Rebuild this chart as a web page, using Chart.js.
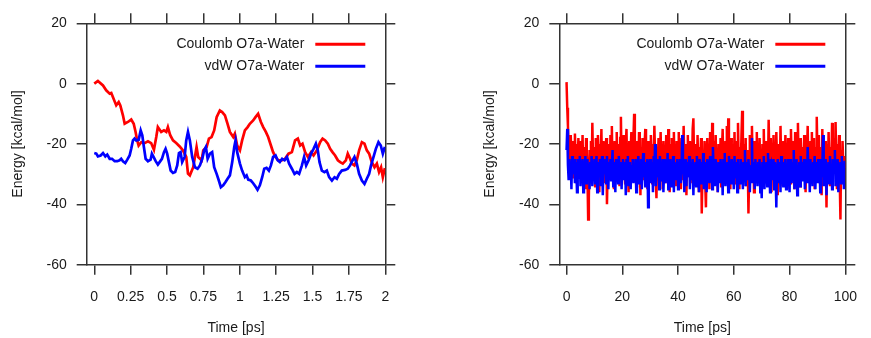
<!DOCTYPE html>
<html>
<head>
<meta charset="utf-8">
<title>O7a-Water interaction energy</title>
<script src="https://cdn.jsdelivr.net/npm/chart.js@4"></script>
<style>
  html, body { margin: 0; padding: 0; background: #fff; }
  #wrap { position: relative; width: 871px; height: 338px; }
  canvas { position: absolute; top: 0; }
  #short-run { left: 0; }
  #long-run { left: 436px; }
</style>
</head>
<body>
<div id="wrap">
  <canvas id="short-run" width="436" height="338"></canvas>
  <canvas id="long-run" width="435" height="338"></canvas>
</div>
<script>
// tick values
const energyTicks = [-60, -40, -20, 0, 20];
const shortTimeTicks = [0, 0.25, 0.5, 0.75, 1, 1.25, 1.5, 1.75, 2];
const longTimeTicks = [0, 20, 40, 60, 80, 100];

// first 2 ps, [time ps, energy kcal/mol]
const coulombShort = [
  [0, 0], [0.025, 0.9], [0.06, -0.6], [0.082, -2.2], [0.106, -3.3], [0.117, -3.1], [0.128, -4.4],
  [0.151, -7.2], [0.168, -6.1], [0.179, -7.2], [0.197, -10.5], [0.209, -13.3], [0.231, -12.7],
  [0.254, -11.9], [0.271, -13.3], [0.284, -16], [0.295, -18.8], [0.305, -20.5], [0.323, -19.4],
  [0.346, -19.7], [0.369, -19.1], [0.391, -19.7], [0.41, -21.9], [0.426, -17.7], [0.437, -14.4],
  [0.46, -16], [0.479, -15.5], [0.495, -16], [0.506, -14.4], [0.522, -17.1], [0.541, -18.8],
  [0.563, -19.7], [0.587, -20.8], [0.609, -22.1], [0.632, -24.3], [0.644, -29.8], [0.657, -30.4],
  [0.68, -27.7], [0.703, -21], [0.714, -24.3], [0.738, -25.4], [0.749, -22.1], [0.772, -21],
  [0.788, -18.2], [0.806, -17.7], [0.824, -15.5], [0.841, -11.1], [0.863, -8.9], [0.879, -9.4],
  [0.898, -10.5], [0.916, -13.3], [0.932, -16], [0.955, -17.7], [0.966, -16.6], [0.982, -20.5],
  [1.001, -22.1], [1.016, -18.8], [1.035, -15.5], [1.054, -14.4], [1.069, -13.3], [1.092, -12.2],
  [1.108, -11.1], [1.126, -10], [1.145, -12.7], [1.161, -14.4], [1.179, -16], [1.195, -17.7],
  [1.214, -20.5], [1.229, -22.7], [1.246, -24.3], [1.264, -25.4], [1.287, -25.4], [1.31, -25],
  [1.335, -23.2], [1.358, -22.7], [1.38, -18.8], [1.399, -18.2], [1.415, -20.5], [1.431, -19.9],
  [1.449, -22.7], [1.468, -24.3], [1.49, -22.7], [1.507, -23.8], [1.53, -22.1], [1.552, -19.4],
  [1.569, -18.2], [1.587, -18.8], [1.605, -19.9], [1.621, -21.6], [1.637, -22.7], [1.655, -23.8],
  [1.674, -25.4], [1.69, -26], [1.708, -26.5], [1.729, -25.4], [1.742, -23.2], [1.758, -24.9],
  [1.77, -26.5], [1.788, -27.1], [1.804, -25.4], [1.82, -22.1], [1.839, -19.4], [1.857, -19.9],
  [1.873, -22.1], [1.889, -23.2], [1.907, -26], [1.926, -27.7], [1.942, -26.5], [1.957, -29.3],
  [1.971, -27.7], [1.983, -31], [1.997, -28]
];
const vdwShort = [
  [0, -23], [0.014, -23.2], [0.025, -24.1], [0.044, -23.8], [0.06, -23], [0.076, -24.1],
  [0.089, -23.5], [0.106, -24.9], [0.122, -24.9], [0.14, -25.7], [0.158, -25.7], [0.174, -25.4],
  [0.185, -24.9], [0.197, -25.7], [0.213, -26.3], [0.227, -25.2], [0.243, -23.8], [0.254, -21.6],
  [0.266, -18.8], [0.277, -18.2], [0.288, -18.8], [0.305, -18.6], [0.319, -15.5], [0.33, -17.1],
  [0.341, -21], [0.353, -24.9], [0.369, -25.7], [0.387, -25.2], [0.396, -23.2], [0.41, -24.5],
  [0.422, -25.7], [0.437, -26.8], [0.449, -26], [0.465, -24.9], [0.479, -22.7], [0.49, -21.6],
  [0.501, -23.2], [0.513, -26], [0.525, -28.8], [0.541, -29.6], [0.556, -29.3], [0.57, -27.1],
  [0.582, -23], [0.593, -22.7], [0.604, -26], [0.621, -24.3], [0.632, -18.8], [0.644, -16],
  [0.657, -18.8], [0.673, -24.3], [0.692, -27.7], [0.71, -28.2], [0.726, -27.1], [0.742, -24.9],
  [0.755, -22.1], [0.767, -21], [0.779, -24.9], [0.795, -23.2], [0.81, -22.7], [0.824, -27.7],
  [0.841, -29.9], [0.856, -32.1], [0.87, -34.3], [0.886, -33.7], [0.902, -32.6], [0.916, -31.5],
  [0.932, -30.4], [0.948, -26], [0.962, -21], [0.971, -18.8], [0.982, -22.7], [1.001, -26.5],
  [1.016, -28.8], [1.035, -31], [1.047, -30.4], [1.058, -31.8], [1.076, -32.1], [1.092, -33],
  [1.108, -34.1], [1.122, -35.2], [1.138, -33.7], [1.154, -31], [1.168, -28.2], [1.184, -27.9],
  [1.2, -28.8], [1.214, -27.1], [1.229, -24.3], [1.246, -23.8], [1.26, -25.4], [1.275, -26],
  [1.291, -24.9], [1.308, -25.4], [1.324, -24.3], [1.339, -26.5], [1.358, -28.2], [1.376, -29.9],
  [1.392, -29.3], [1.408, -29.9], [1.427, -27.1], [1.442, -24.3], [1.456, -27.1], [1.473, -25.4],
  [1.49, -23.2], [1.507, -21.6], [1.523, -19.9], [1.536, -22.1], [1.548, -26], [1.564, -28.8],
  [1.582, -29.3], [1.598, -28.8], [1.614, -31], [1.633, -32.1], [1.651, -31], [1.667, -31.5],
  [1.683, -29.9], [1.701, -28.8], [1.724, -28.6], [1.742, -28.2], [1.758, -27.1], [1.775, -25.4],
  [1.788, -24.3], [1.804, -26.5], [1.82, -29.9], [1.839, -32.1], [1.857, -33.2], [1.873, -31.5],
  [1.889, -29.9], [1.902, -27.1], [1.919, -24.3], [1.935, -21.6], [1.953, -19.4], [1.969, -20.5],
  [1.983, -23.2], [1.997, -21]
];

// full 100 ps, one value every 0.25 ps (20 values = 5 ps per row)
const longStep = 0.25;
const coulombLong = [
  0.5, -8, -14, -21, -18, -27, -17, -24, -31, -19, -22, -28, -16.5, -25, -33, -20, -26, -18, -30, -23,
  -19, -29, -24, -17, -32, -21, -26, -35, -18, -23, -30, -45, -38, -22, -27, -19, -33, -13, -25, -29,
  -21, -34, -18, -26, -30, -17, -23, -36, -20, -27, -15, -31, -24, -19, -29, -33, -22, -18, -40, -28,
  -20, -26, -32, -17, -24, -14, -30, -21, -35, -19, -27, -23, -16, -31, -25, -20, -34, -18, -11, -28,
  -23, -30, -17, -26, -33, -20, -15, -29, -24, -36, -19, -27, -22, -16, -31, -25, -18, -10, -28, -22,
  -34, -19, -26, -30, -16, -23, -37, -21, -28, -18, -25, -32, -20, -15, -29, -24, -35, -19, -27, -22,
  -31, -17, -25, -33, -20, -28, -14, -23, -30, -38, -21, -26, -18, -32, -24, -16, -29, -22, -35, -19,
  -27, -21, -33, -17, -25, -30, -15, -24, -36, -20, -28, -18, -31, -23, -16, -29, -26, -34, -19, -22,
  -30, -16, -27, -21, -35, -18, -24, -32, -14, -26, -29, -20, -37, -23, -17, -31, -25, -19, -33, -22,
  -28, -15, -11.5, -26, -34, -20, -23, -31, -17, -29, -36, -21, -25, -18, -43, -30, -22, -27, -19, -33,
  -41, -24, -18, -29, -21, -35, -16, -26, -30, -13, -23, -33, -19, -27, -17, -31, -24, -36, -20, -26,
  -29, -18, -34, -22, -15, -28, -25, -32, -19, -24, -14, -30, -11.5, -27, -21, -35, -18, -26, -31, -20,
  -28, -16, -33, -23, -19, -30, -13, -26, -35, -21, -27, -17, -9, -24, -31, -20, -29, -18, -34, -22,
  -26, -43, -30, -17, -24, -32, -14, -27, -21, -36, -19, -25, -29, -16, -33, -22, -28, -18, -31, -23,
  -35, -20, -26, -15, -30, -24, -19, -33, -21, -28, -12, -25, -31, -18, -36, -23, -27, -17, -29, -22,
  -32, -16, -26, -37, -20, -24, -30, -14, -28, -22, -34, -19, -25, -31, -17, -27, -23, -35, -18, -29,
  -21, -33, -15, -26, -30, -19, -24, -35, -16, -28, -22, -31, -13, -27, -20, -34, -18, -25, -29, -21,
  -32, -17, -26, -36, -20, -24, -14, -30, -22, -33, -19, -27, -16, -31, -25, -18, -35, -21, -28, -11,
  -24, -30, -17, -33, -21, -26, -37, -15, -28, -22, -32, -19, -25, -41, -20, -29, -16, -27, -34, -21,
  -26, -13, -31, -23, -18, -29, -12.7, -25, -35, -20, -27, -17, -32, -45, -22, -30, -19, -26, -33, -24,
  -28
];
const vdwLong = [
  -22, -15, -27, -32, -25, -29, -26, -35, -24, -30, -27, -25, -33, -26, -28, -36, -25, -27, -31, -24,
  -34, -26, -28, -25, -36, -27, -30, -24, -33, -28, -25, -31, -27, -35, -26, -29, -24, -34, -27, -30,
  -25, -33, -28, -24, -36, -26, -29, -31, -25, -34, -27, -24, -37, -28, -25, -30, -26, -33, -24, -28,
  -35, -26, -29, -25, -32, -27, -22, -34, -28, -26, -36, -25, -30, -27, -33, -24, -28, -31, -26, -35,
  -27, -25, -32, -28, -26, -37, -25, -30, -24, -34, -28, -26, -35, -27, -29, -25, -33, -27, -31, -25,
  -36, -26, -28, -24, -33, -27, -30, -25, -35, -27, -23, -31, -28, -34, -26, -29, -25, -41, -30, -27,
  -25, -33, -28, -26, -36, -24, -30, -20, -34, -27, -25, -31, -28, -35, -24, -29, -26, -32, -25, -36,
  -28, -25, -33, -27, -30, -23, -35, -26, -28, -25, -34, -27, -31, -24, -36, -26, -29, -27, -32, -25,
  -35, -26, -29, -25, -33, -28, -17, -30, -26, -36, -25, -28, -34, -26, -31, -27, -24, -35, -28, -26,
  -32, -25, -37, -27, -29, -26, -34, -24, -30, -27, -36, -25, -28, -33, -26, -31, -23, -35, -28, -26,
  -30, -36, -25, -28, -27, -33, -24, -31, -27, -35, -21, -29, -26, -34, -25, -30, -28, -36, -26, -28,
  -33, -25, -30, -27, -37, -25, -28, -23, -34, -27, -31, -26, -36, -24, -29, -27, -33, -25, -30, -28,
  -35, -24, -31, -26, -28, -36, -25, -30, -27, -33, -25, -29, -27, -35, -26, -31, -22, -34, -28, -26,
  -32, -25, -29, -36, -27, -30, -18, -33, -26, -28, -35, -25, -31, -27, -34, -26, -29, -25, -36, -28,
  -38, -26, -31, -24, -35, -27, -29, -26, -34, -23, -30, -28, -36, -25, -32, -27, -28, -25, -35, -26,
  -30, -41, -27, -25, -33, -28, -26, -36, -24, -31, -28, -34, -26, -29, -25, -35, -27, -32, -25, -30,
  -36, -25, -28, -33, -26, -30, -22, -35, -27, -29, -25, -37, -27, -31, -26, -34, -24, -28, -32, -26,
  -30, -25, -35, -28, -26, -33, -21, -29, -27, -36, -25, -31, -27, -34, -26, -28, -24, -35, -28, -26,
  -33, -25, -29, -27, -36, -25, -31, -28, -17, -34, -26, -30, -25, -37, -27, -29, -26, -33, -24, -31,
  -27, -35, -25, -30, -28, -22, -34, -26, -32, -25, -36, -27, -29, -26, -33, -24, -31, -28, -35, -26,
  -26
];

const FONT = { family: '"Liberation Sans", Arial, Helvetica, sans-serif', size: 14 };
const INK = '#1a1a1a';
const FRAME = '#333333';

// legend drawn inside the plot, text on the left of the line sample
const insideLegend = {
  id: 'insideLegend',
  afterDraw(chart) {
    const { ctx, chartArea } = chart;
    ctx.save();
    ctx.font = `${FONT.size}px ${FONT.family}`;
    ctx.textAlign = 'right';
    ctx.textBaseline = 'middle';
    chart.data.datasets.forEach((ds, i) => {
      const y = chartArea.top + 21 + i * 22;
      ctx.fillStyle = INK;
      ctx.fillText(ds.label, chartArea.right - 81, y);
      ctx.strokeStyle = ds.borderColor;
      ctx.lineWidth = 3;
      ctx.beginPath();
      ctx.moveTo(chartArea.right - 70, y);
      ctx.lineTo(chartArea.right - 20, y);
      ctx.stroke();
    });
    ctx.restore();
  }
};

function tickAxis(values) {
  return s => { s.ticks = values.map(v => ({ value: v })); };
}

const tickGrid = { display: true, drawOnChartArea: false, drawTicks: true, tickLength: 10, color: FRAME, lineWidth: 1.5 };
const frame = { display: true, color: FRAME, width: 1.5 };

function buildChart(id, opts) {
  const ctx = document.getElementById(id).getContext('2d');
  return new Chart(ctx, {
    type: 'line',
    data: {
      datasets: [
        {
          label: 'Coulomb O7a-Water',
          data: opts.coulomb,
          borderColor: '#ff0000',
          borderWidth: opts.lineWidth,
          pointRadius: 0,
          tension: 0,
          order: 1
        },
        {
          label: 'vdW O7a-Water',
          data: opts.vdw,
          borderColor: '#0000ff',
          borderWidth: opts.lineWidth,
          pointRadius: 0,
          tension: 0,
          order: 0
        }
      ]
    },
    options: {
      responsive: false,
      animation: false,
      devicePixelRatio: 1,
      events: [],
      layout: { padding: 0 },
      plugins: { legend: { display: false }, tooltip: { enabled: false } },
      scales: {
        x: {
          type: 'linear',
          position: 'bottom',
          min: opts.xMin,
          max: opts.xMax,
          afterBuildTicks: tickAxis(opts.xTicks),
          afterFit: s => { s.height = 73.3; },
          ticks: { font: FONT, color: INK, padding: 14, autoSkip: false, maxRotation: 0, callback: v => String(v) },
          grid: tickGrid,
          border: frame,
          title: { display: true, text: 'Time [ps]', font: FONT, color: INK, padding: { top: 0, bottom: 1.6 } }
        },
        xTop: {
          type: 'linear',
          position: 'top',
          min: opts.xMin,
          max: opts.xMax,
          afterBuildTicks: tickAxis(opts.xTicks),
          afterFit: s => { s.height = 23.3; },
          ticks: { display: false },
          grid: tickGrid,
          border: frame
        },
        y: {
          type: 'linear',
          position: 'left',
          min: -60,
          max: 20,
          afterBuildTicks: tickAxis(energyTicks),
          afterFit: s => { s.width = opts.leftWidth; },
          ticks: { font: FONT, color: INK, padding: 10, callback: v => String(v) },
          grid: tickGrid,
          border: frame,
          title: { display: true, text: 'Energy [kcal/mol]', font: FONT, color: INK, padding: { top: opts.titlePad, bottom: 0 } }
        },
        yRight: {
          type: 'linear',
          position: 'right',
          min: -60,
          max: 20,
          afterBuildTicks: tickAxis(energyTicks),
          afterFit: s => { s.width = opts.rightWidth; },
          ticks: { display: false },
          grid: tickGrid,
          border: frame
        }
      }
    },
    plugins: [insideLegend]
  });
}

const pairs = list => list.map(([t, e]) => ({ x: t, y: e }));
const stepped = list => list.map((e, i) => ({ x: i * longStep, y: e }));

buildChart('short-run', {
  coulomb: pairs(coulombShort),
  vdw: pairs(vdwShort),
  xMin: -0.052,
  xMax: 2,
  xTicks: shortTimeTicks,
  leftWidth: 86.7,
  rightWidth: 50.7,
  titlePad: 9.6,
  lineWidth: 2.7
});

buildChart('long-run', {
  coulomb: stepped(coulombLong),
  vdw: stepped(vdwLong),
  xMin: -2.6,
  xMax: 100,
  xTicks: longTimeTicks,
  leftWidth: 123.3,
  rightWidth: 11.7,
  titlePad: 45.6,
  lineWidth: 2.5
});
</script>
</body>
</html>
